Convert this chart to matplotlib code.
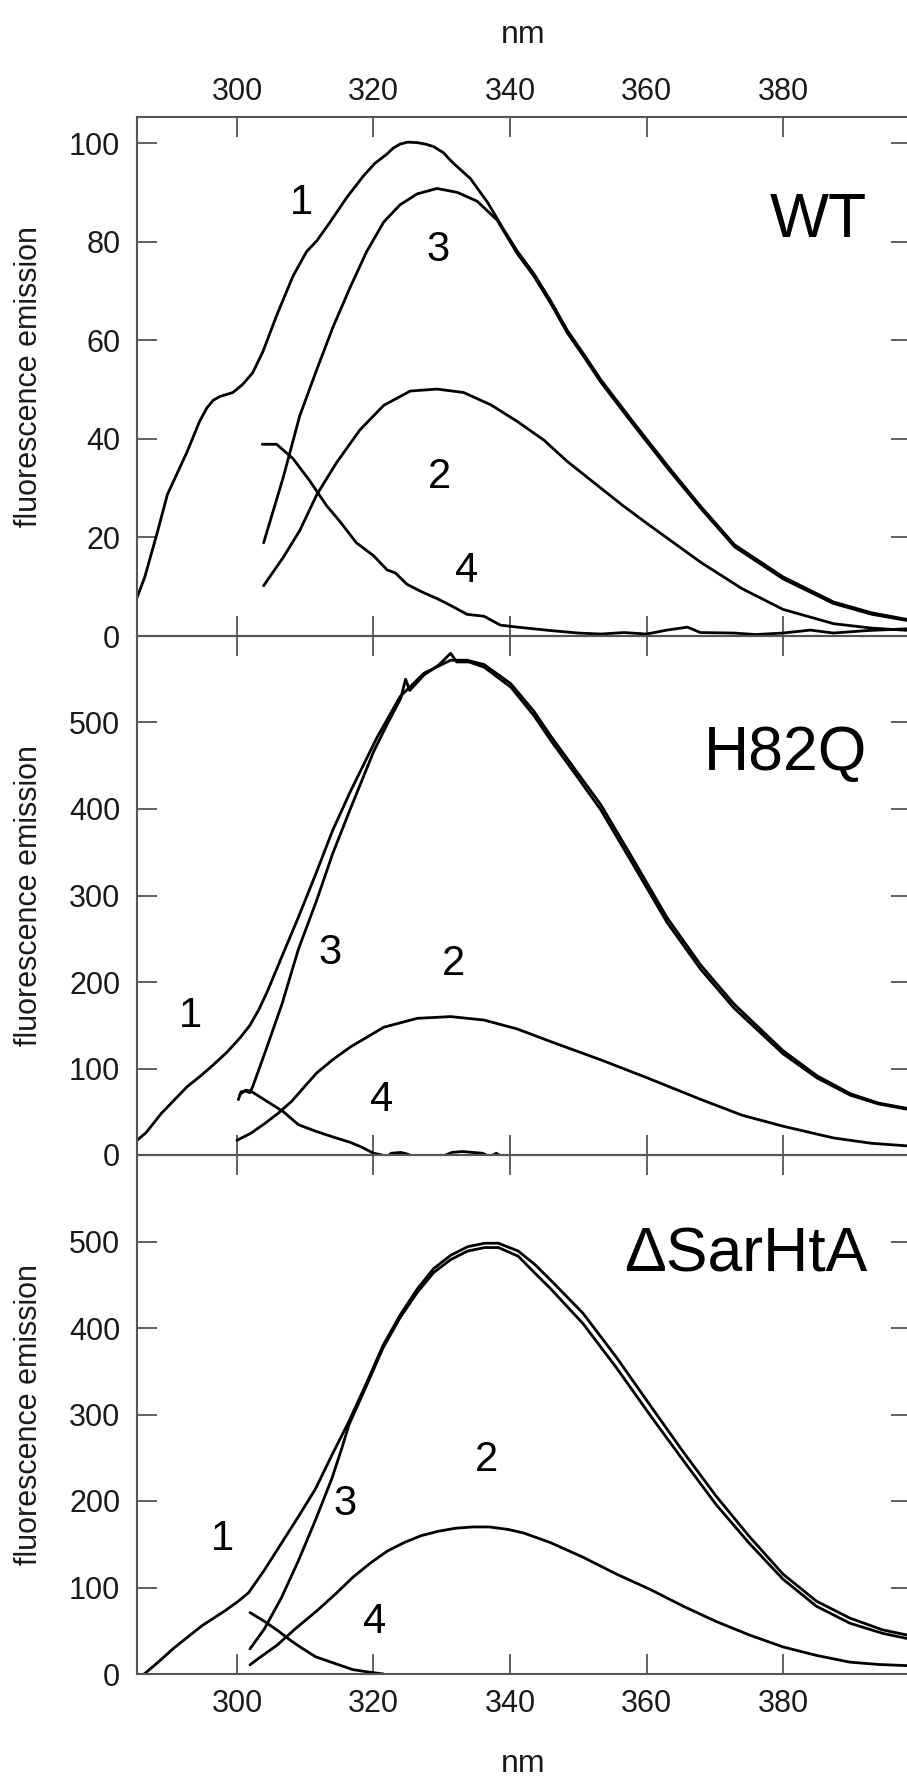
import matplotlib
matplotlib.use('Agg')
import matplotlib.pyplot as plt

plt.rcParams['font.family'] = ['Liberation Sans', 'DejaVu Sans']

# ---------------- data (nm, fluorescence emission) ----------------
panel_names = ['WT', 'H82Q', '\u0394SarHtA']
x_ticks = [300, 320, 340, 360, 380]
wt_yticks = [0, 20, 40, 60, 80, 100]
mut_yticks = [0, 100, 200, 300, 400, 500]

# WT
wt1_x = [285.3, 286.5, 288.4, 289.8, 292.7, 294.5, 295.6, 296.5, 297.5, 299.4, 300.8, 302.3, 303.8, 305.8,
         308.2, 310.2, 311.7, 313.6, 316.1, 318.5, 320.2, 321.9, 322.9, 323.9, 325.0, 326.4, 327.6, 328.8,
         330.3, 331.0, 331.8, 333.0, 334.2, 336.7, 339.1, 341.1, 343.5, 346.0, 348.4, 350.9, 353.3, 358.0,
         363.1, 368.0, 372.9, 380.0, 387.4, 393.0, 398.8]
wt1_y = [7.6, 12.0, 21.4, 28.7, 37.4, 43.5, 46.3, 47.8, 48.6, 49.4, 51.0, 53.4, 57.7, 65.0,
         73.0, 78.0, 80.2, 83.9, 89.0, 93.3, 95.9, 97.7, 99.0, 99.8, 100.2, 100.1, 99.8, 99.3,
         98.0, 96.9, 95.8, 94.3, 92.8, 88.0, 82.4, 78.0, 73.5, 67.9, 62.0, 57.0, 52.0, 43.5,
         34.5, 26.2, 18.5, 12.0, 6.9, 4.7, 3.2]
wt2_x = [303.9, 306.8, 309.2, 311.7, 314.6, 318.0, 321.5, 325.4, 329.3, 333.2, 337.2, 341.1, 345.0, 348.4,
         352.4, 356.5, 360.0, 368.0, 374.0, 380.0, 387.4, 393.0, 398.8]
wt2_y = [10.2, 16.0, 21.4, 28.7, 35.2, 41.8, 46.8, 49.7, 50.1, 49.4, 46.9, 43.5, 39.7, 35.4,
         31.0, 26.5, 22.9, 14.9, 9.6, 5.4, 2.5, 1.6, 1.1]
wt3_x = [303.9, 306.8, 309.2, 311.7, 314.1, 316.6, 319.0, 321.5, 323.9, 326.4, 329.3, 332.3, 335.2, 338.1,
         341.1, 343.5, 346.0, 348.4, 350.9, 353.3, 358.0, 363.1, 368.0, 372.9, 380.0, 387.4, 393.0, 398.8]
wt3_y = [18.9, 32.3, 44.7, 54.1, 62.8, 70.8, 78.0, 84.0, 87.5, 89.7, 90.8, 90.0, 88.2, 84.4,
         77.5, 73.0, 67.4, 61.5, 56.5, 51.5, 43.0, 34.0, 25.8, 18.1, 11.6, 6.6, 4.4, 3.0]
wt4_x = [303.7, 305.8, 308.2, 310.6, 313.1, 315.1, 317.5, 320.0, 322.0, 323.2, 324.9, 327.0, 329.3, 331.3,
         333.7, 336.2, 338.6, 341.1, 346.0, 350.0, 353.3, 356.7, 360.0, 363.0, 366.0, 367.9, 372.8, 376.0,
         380.0, 384.0, 387.4, 392.3, 398.8]
wt4_y = [38.9, 38.9, 36.0, 31.6, 26.5, 23.2, 18.9, 16.3, 13.4, 12.8, 10.5, 9.0, 7.6, 6.2,
         4.4, 4.0, 2.2, 1.8, 1.1, 0.6, 0.4, 0.7, 0.4, 1.2, 1.8, 0.7, 0.6, 0.3,
         0.6, 1.2, 0.6, 1.1, 1.5]

# H82Q
h1_x = [285.3, 286.7, 288.9, 292.7, 294.6, 296.5, 298.5, 300.4, 301.9, 303.2, 304.5, 306.5, 309.0, 311.7,
        314.0, 316.6, 320.5, 323.9, 327.4, 331.3, 333.7, 336.2, 340.1, 343.5, 346.0, 349.6, 353.3, 358.1,
        363.0, 367.9, 372.8, 380.0, 385.0, 389.9, 394.0, 398.8]
h1_y = [16.6, 26.0, 48.0, 79.0, 91.0, 104.0, 118.6, 135.0, 150.0, 168.0, 190.0, 228.0, 275.0, 328.0,
        375.0, 420.0, 482.5, 530.0, 557.0, 572.0, 572.0, 567.0, 545.0, 513.0, 484.0, 445.0, 405.0, 341.0,
        274.5, 220.0, 174.7, 120.6, 91.5, 70.7, 60.0, 53.0]
h2_x = [300.0, 302.0, 304.0, 306.0, 308.0, 310.0, 311.7, 314.0, 316.6, 321.5, 326.4, 331.3, 336.2, 341.1,
        346.0, 353.3, 360.0, 367.9, 374.0, 380.0, 387.4, 393.0, 398.8]
h2_y = [17.0, 25.0, 36.0, 48.0, 62.0, 80.0, 95.0, 110.0, 124.8, 147.7, 158.0, 160.0, 156.0, 145.6,
        131.0, 110.0, 89.5, 64.4, 46.0, 33.3, 19.7, 13.5, 10.2]
h3_x = [300.2, 300.6, 301.2, 301.9, 302.3, 304.2, 306.6, 309.0, 311.7, 314.0, 316.6, 320.0, 322.0, 324.0,
        324.7, 325.3, 327.4, 329.5, 331.3, 332.2, 334.0, 336.2, 340.1, 343.5, 346.0, 349.6, 353.3, 358.1,
        363.0, 367.9, 372.8, 380.0, 385.0, 389.9, 394.0, 398.8]
h3_y = [64.0, 73.0, 74.0, 72.0, 79.0, 120.6, 174.7, 238.0, 295.0, 348.0, 400.0, 466.0, 498.0, 528.0,
        550.0, 537.0, 555.0, 566.0, 580.0, 570.0, 570.0, 564.0, 541.0, 508.0, 479.0, 440.0, 399.0, 335.0,
        269.0, 215.0, 170.0, 117.0, 89.0, 69.0, 59.0, 52.0]
h4_x = [300.4, 301.3, 302.0, 304.0, 306.8, 309.0, 311.7, 314.0, 316.6, 318.3, 320.0, 321.0, 322.0, 322.6,
        324.0, 325.0, 326.0, 328.0, 330.0, 331.5, 333.0, 334.5, 336.0, 337.0, 338.0, 339.0, 341.0]
h4_y = [70.0, 75.0, 74.0, 64.0, 50.0, 35.0, 27.0, 21.0, 14.6, 9.0, 2.0, 0.5, -2.0, 2.0,
        3.0, 1.0, -3.0, -4.0, -2.0, 3.0, 4.0, 3.0, 2.0, -2.0, 2.0, -3.0, -6.0]

# delta SarHtA
d1_x = [286.4, 288.5, 290.7, 294.9, 298.3, 300.0, 301.7, 304.0, 306.5, 309.0, 311.5, 313.9, 316.4, 318.9,
        321.4, 323.9, 326.4, 328.8, 331.3, 333.8, 336.3, 338.3, 341.2, 343.7, 346.0, 350.7, 355.6, 360.5,
        365.4, 370.2, 375.1, 380.0, 384.9, 389.8, 394.6, 398.8]
d1_y = [0.0, 14.0, 29.7, 56.0, 73.4, 83.0, 94.0, 120.0, 151.0, 182.0, 214.0, 253.0, 292.0, 335.0,
        380.0, 415.0, 445.0, 468.6, 484.0, 494.0, 498.0, 498.0, 489.0, 473.0, 455.0, 417.0, 366.0, 311.0,
        256.5, 205.6, 158.6, 115.5, 84.2, 64.6, 51.0, 44.0]
d2_x = [301.9, 303.5, 305.9, 308.5, 311.7, 314.5, 317.0, 319.5, 322.0, 324.5, 327.0, 329.5, 332.0, 334.5,
        337.0, 339.8, 342.0, 345.9, 350.7, 355.6, 360.5, 365.4, 370.2, 375.1, 380.0, 384.9, 389.8, 394.0, 398.8]
d2_y = [10.6, 20.0, 33.5, 52.0, 73.0, 93.0, 112.0, 128.0, 142.0, 152.0, 160.0, 165.0, 168.5, 170.0,
        170.0, 167.0, 163.0, 152.0, 135.0, 115.5, 97.9, 78.3, 60.7, 45.0, 31.3, 21.5, 13.7, 11.0, 9.5]
d3_x = [301.9, 304.0, 306.5, 309.0, 311.5, 313.9, 315.4, 316.4, 318.9, 321.4, 323.9, 326.4, 328.8, 331.3,
        333.8, 336.3, 338.3, 341.2, 343.7, 346.0, 350.7, 355.6, 360.5, 365.4, 370.2, 375.1, 380.0, 384.9,
        389.8, 394.6, 398.8]
d3_y = [29.0, 52.0, 88.0, 131.0, 178.0, 226.0, 262.0, 288.0, 332.0, 377.0, 412.0, 441.0, 464.0, 479.0,
        489.0, 493.0, 493.0, 483.0, 463.0, 445.0, 405.0, 354.0, 299.5, 246.7, 195.8, 150.7, 109.6, 78.3,
        58.7, 47.0, 40.0]
d4_x = [301.9, 304.0, 306.0, 308.0, 309.3, 311.5, 314.4, 317.0, 319.5, 321.5]
d4_y = [71.0, 61.0, 50.0, 38.0, 31.0, 20.0, 12.0, 5.0, 2.0, 0.0]

panels = [
    dict(curves=[(wt1_x, wt1_y), (wt2_x, wt2_y), (wt3_x, wt3_y), (wt4_x, wt4_y)],
         ylim=(0, 105.3), yticks=wt_yticks),
    dict(curves=[(h1_x, h1_y), (h2_x, h2_y), (h3_x, h3_y), (h4_x, h4_y)],
         ylim=(0, 600), yticks=mut_yticks),
    dict(curves=[(d1_x, d1_y), (d2_x, d2_y), (d3_x, d3_y), (d4_x, d4_y)],
         ylim=(0, 600), yticks=mut_yticks),
]

# ---------------- layout ----------------
W, H, DPI = 907, 1776, 100
fig = plt.figure(figsize=(W / DPI, H / DPI), dpi=DPI)
fig.patch.set_facecolor('white')

def fx(px):
    return px / W

def fy(py):
    return 1 - py / H

LEFT, RIGHT = 137, 911
TOP, PH = 117, 519
XLIM = (285.35, 398.75)
SPINE_C = '#555555'
TEXT_C = '#1a1a1a'
TICK_FS = 22

for i, p in enumerate(panels):
    t = TOP + i * PH
    ax = fig.add_axes([fx(LEFT), fy(t + PH), (RIGHT - LEFT) / W, PH / H])
    for x, y in p['curves']:
        ax.plot(x, y, color='black', lw=2.0, solid_joinstyle='round', solid_capstyle='round')
    ax.set_xlim(*XLIM)
    ax.set_ylim(*p['ylim'])
    ax.set_xticks(x_ticks)
    ax.set_yticks(p['yticks'])
    for s in ax.spines.values():
        s.set_color(SPINE_C)
        s.set_linewidth(1.5)
    ax.tick_params(axis='both', which='both', direction='in', length=14.4, width=1.3,
                   color=SPINE_C, labelsize=TICK_FS, labelcolor=TEXT_C)
    ax.tick_params(axis='y', left=True, right=True, labelleft=True, labelright=False, pad=12)
    ax.tick_params(axis='x', top=True, bottom=True,
                   labeltop=(i == 0), labelbottom=(i == 2))
    ax.tick_params(axis='x', pad=7 if i == 0 else 11)
    ax.set_facecolor('none')
    fig.text(fx(29), fy(t + PH / 2), 'fluorescence emission', rotation=90,
             ha='center', va='center', fontsize=22, color=TEXT_C)

# x labels
fig.text(fx(523), fy(35), 'nm', ha='center', va='center', fontsize=23, color=TEXT_C)
fig.text(fx(523), fy(1764), 'nm', ha='center', va='center', fontsize=23, color=TEXT_C)

# panel names (right edge, baseline in px)
name_pos = [(867, 237), (867, 770), (867, 1271)]
for name, (px, py) in zip(panel_names, name_pos):
    fig.text(fx(px), fy(py), name, ha='right', va='baseline', fontsize=45, color='black')

# curve number labels (center x, baseline y in px)
curve_labels = [
    ('1', 301.7, 214), ('3', 438.3, 260.7), ('2', 440, 487.5), ('4', 466.7, 582),
    ('1', 190, 1027), ('3', 330, 964), ('2', 454, 975), ('4', 381.7, 1111),
    ('1', 222.7, 1550), ('3', 345, 1515), ('2', 486.7, 1471), ('4', 375, 1633),
]
for s, px, py in curve_labels:
    fig.text(fx(px), fy(py), s, ha='center', va='baseline', fontsize=30, color='black')

fig.savefig('out.png', dpi=DPI, facecolor='white')
